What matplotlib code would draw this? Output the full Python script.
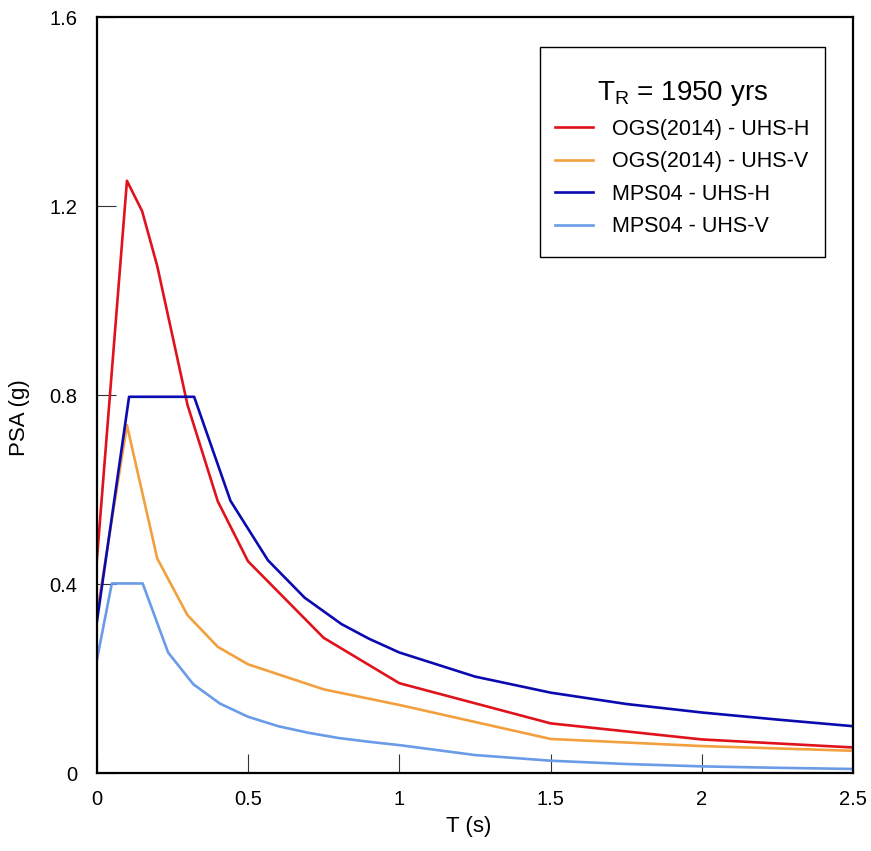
#!/usr/bin/env python3
"""
Uniform hazard spectra, TR = 1950 yrs: OGS(2014) vs MPS04
"""

import matplotlib
matplotlib.use('Agg')
import matplotlib.pyplot as plt
from matplotlib.patches import Rectangle

plt.rcParams['font.family'] = ['Liberation Sans', 'DejaVu Sans']
plt.rcParams['mathtext.fontset'] = 'custom'
plt.rcParams['mathtext.rm'] = 'Liberation Sans'

# OGS(2014) - UHS-H
t_ogs_h = [0.0, 0.1, 0.15, 0.2, 0.3, 0.4, 0.5, 0.75, 1.0, 1.5, 2.0, 2.5]
psa_ogs_h = [0.447, 1.254, 1.19, 1.074, 0.78, 0.576, 0.449, 0.287, 0.191, 0.106, 0.072, 0.055]

# OGS(2014) - UHS-V
t_ogs_v = [0.0, 0.1, 0.2, 0.3, 0.4, 0.5, 0.75, 1.0, 1.5, 2.0, 2.5]
psa_ogs_v = [0.335, 0.737, 0.455, 0.335, 0.268, 0.231, 0.178, 0.145, 0.073, 0.058, 0.048]

# MPS04 - UHS-H
t_mps_h = [0.0, 0.107, 0.322, 0.442, 0.566, 0.687, 0.809, 0.9, 1.0, 1.25, 1.5, 1.75, 2.0, 2.25, 2.5]
psa_mps_h = [0.318, 0.797, 0.797, 0.577, 0.451, 0.372, 0.316, 0.285, 0.256, 0.205, 0.171, 0.147, 0.129, 0.114, 0.100]

# MPS04 - UHS-V
t_mps_v = [0.0, 0.05, 0.152, 0.236, 0.319, 0.407, 0.5, 0.6, 0.7, 0.8, 0.9, 1.0, 1.25, 1.5, 1.75, 2.0, 2.25, 2.5]
psa_mps_v = [0.238, 0.402, 0.402, 0.256, 0.189, 0.148, 0.120, 0.100, 0.086, 0.075, 0.067, 0.060, 0.039, 0.027, 0.020, 0.015, 0.012, 0.0095]

x_ticks = [0, 0.5, 1, 1.5, 2, 2.5]
x_labels = ['0', '0.5', '1', '1.5', '2', '2.5']
y_ticks = [0, 0.4, 0.8, 1.2, 1.6]
y_labels = ['0', '0.4', '0.8', '1.2', '1.6']

W, H = 871, 851


def create_uhs_chart():
    fig = plt.figure(figsize=(W / 100, H / 100), dpi=100)
    ax = fig.add_axes([0.111, 0.0911, 0.8687, 0.8886])

    ax.plot(t_ogs_h, psa_ogs_h, color='#e0121b', lw=1.9, label='OGS(2014) - UHS-H')
    ax.plot(t_ogs_v, psa_ogs_v, color='#f2a03e', lw=1.9, label='OGS(2014) - UHS-V')
    ax.plot(t_mps_h, psa_mps_h, color='#0a0ab0', lw=1.9, label='MPS04 - UHS-H')
    ax.plot(t_mps_v, psa_mps_v, color='#6a9be8', lw=1.9, label='MPS04 - UHS-V')

    ax.set_xlim(0, 2.5)
    ax.set_ylim(0, 1.6)
    ax.set_xticks(x_ticks)
    ax.set_xticklabels(x_labels)
    ax.set_yticks(y_ticks)
    ax.set_yticklabels(y_labels)
    ax.tick_params(axis='x', direction='in', length=13.5, width=0.8, color='#333333',
                   labelsize=14.5, pad=12)
    ax.tick_params(axis='y', direction='in', length=13.5, width=0.8, color='#333333',
                   labelsize=14.5, pad=14)
    for sp in ax.spines.values():
        sp.set_linewidth(1.6)
        sp.set_color('black')

    ax.set_xlabel('T (s)', fontsize=16)
    ax.set_ylabel('PSA (g)', fontsize=16)
    ax.xaxis.set_label_coords(0.491, -0.056)
    ax.yaxis.set_label_coords(-0.088, 0.471)

    # legend box + title drawn by hand so the spacing matches
    box = Rectangle((540 / W, 1 - 256.7 / H), (825 - 540) / W, (256.7 - 47.3) / H,
                    transform=fig.transFigure, facecolor='white', edgecolor='black',
                    lw=1.0, zorder=5, clip_on=False)
    ax.add_patch(box)
    ax.text(683 / W, 1 - 99.5 / H, r'T$_\mathrm{R}$ = 1950 yrs', fontsize=20,
            ha='center', va='baseline', transform=fig.transFigure, zorder=6)

    leg = ax.legend(loc='upper left', bbox_to_anchor=(555 / W, 1 - 119 / H),
                    bbox_transform=fig.transFigure, borderaxespad=0, borderpad=0,
                    fontsize=15.5, handlelength=1.77, handletextpad=0.88,
                    labelspacing=0.53, frameon=False)
    leg.set_zorder(7)

    fig.savefig('out.png', dpi=100)


if __name__ == "__main__":
    create_uhs_chart()
